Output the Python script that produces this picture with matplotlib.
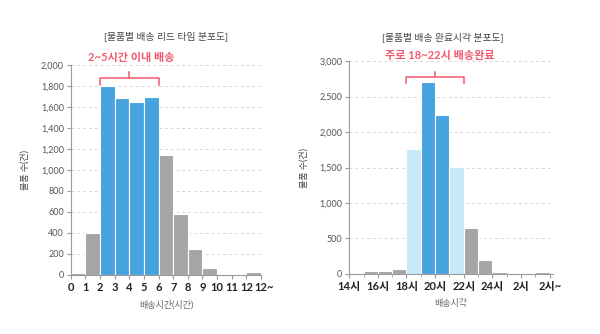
import matplotlib.pyplot as plt
import matplotlib.transforms as mtransforms
from matplotlib.ticker import FuncFormatter

plt.rcParams['font.family'] = ['Lato', 'Noto Sans CJK KR', 'DejaVu Sans']

# left chart: lead time (hours)
lead_bins = list(range(0, 13))
lead_counts = [15, 395, 1800, 1690, 1645, 1700, 1145, 580, 245, 65, 10, 3, 25]
lead_colors = ['gray', 'gray', 'blue', 'blue', 'blue', 'blue', 'gray',
               'gray', 'gray', 'gray', 'gray', 'gray', 'gray']
lead_ticklabels = ['0', '1', '2', '3', '4', '5', '6', '7', '8', '9', '10', '11', '12', '12~']

# right chart: completion hour
done_bins = list(range(14, 28))
done_counts = [0, 35, 40, 75, 1760, 2700, 2240, 1510, 640, 190, 25, 0, 0, 20]
done_colors = ['gray', 'gray', 'gray', 'gray', 'light', 'blue', 'blue', 'light',
               'gray', 'gray', 'gray', 'gray', 'gray', 'gray']
done_ticks = [14, 16, 18, 20, 22, 24, 26, 28]
done_ticklabels = ['14시', '16시', '18시', '20시', '22시', '24시', '2시', '2시~']

palette = {'gray': '#a5a5a5', 'blue': '#47a3e0', 'light': '#c8e8f8'}
red = '#f25a6b'
axis_gray = '#9a9a9a'

fig = plt.figure(figsize=(6, 3.34), dpi=100)
ax1 = fig.add_axes([0.118, 0.177, 0.317, 0.628])
ax2 = fig.add_axes([0.582, 0.180, 0.339, 0.637])


def style(ax):
    ax.spines['top'].set_visible(False)
    ax.spines['right'].set_visible(False)
    for s in ('left', 'bottom'):
        ax.spines[s].set_color(axis_gray)
        ax.spines[s].set_linewidth(0.8)
    ax.yaxis.grid(True, linestyle=(0, (3, 3)), color='#d8d8d8', linewidth=0.7)
    ax.set_axisbelow(True)
    ax.tick_params(axis='y', length=3, color=axis_gray, labelsize=6.5, labelcolor='#555555', pad=2)
    ax.tick_params(axis='x', length=3, color=axis_gray, labelsize=8, labelcolor='#222222', pad=2)
    ax.yaxis.set_major_formatter(FuncFormatter(lambda v, p: f'{int(v):,}'))
    for lab in ax.get_xticklabels():
        lab.set_fontweight('bold')


def bracket(ax, x0, x1, y_line, drop, notch):
    xm = (x0 + x1) / 2
    ax.plot([x0, x0, x1, x1], [y_line - drop, y_line, y_line, y_line - drop],
            color=red, lw=1.1, clip_on=False)
    ax.plot([xm, xm], [y_line, y_line + notch], color=red, lw=1.1, clip_on=False)


# left
ax1.bar(lead_bins, lead_counts, width=1, align='edge',
        color=[palette[c] for c in lead_colors], edgecolor='white', linewidth=0.8)
ax1.set_xlim(0, 13)
ax1.set_ylim(0, 2000)
ax1.set_yticks(range(0, 2001, 200))
ax1.set_xticks(range(0, 14))
ax1.set_xticklabels(lead_ticklabels)
style(ax1)
# nudge "12~" a little right so it doesn't run into "12"
last = ax1.get_xticklabels()[-1]
last.set_transform(last.get_transform() + mtransforms.ScaledTranslation(3 / 100, 0, fig.dpi_scale_trans))
ax1.set_xlabel('배송시간(시간)', fontsize=6.5, color='#666666', labelpad=5)
ax1.set_ylabel('물품 수(건)', fontsize=6.5, color='#444444', labelpad=8)
ax1.text(6.5, 2280, '[물품별 배송 리드 타임 분포도]', ha='center', va='center',
         fontsize=7, color='#444444')
ax1.text(4.1, 2075, '2~5시간 이내 배송', ha='center', va='center',
         fontsize=8, color=red, fontweight='bold')
bracket(ax1, 2, 6, 1880, 70, 50)

# right
ax2.bar(done_bins, done_counts, width=1, align='edge',
        color=[palette[c] for c in done_colors], edgecolor='white', linewidth=0.8)
ax2.set_xlim(14, 28.2)
ax2.set_ylim(0, 3000)
ax2.set_yticks(range(0, 3001, 500))
ax2.set_xticks(done_ticks)
ax2.set_xticks(range(14, 29), minor=True)
ax2.tick_params(axis='x', which='minor', length=2, color=axis_gray)
ax2.set_xticklabels(done_ticklabels)
style(ax2)
ax2.set_xlabel('배송시각', fontsize=6.5, color='#666666', labelpad=5)
ax2.set_ylabel('물품 수(건)', fontsize=6.5, color='#444444', labelpad=8)
ax2.text(20.5, 3340, '[물품별 배송 완료시각 분포도]', ha='center', va='center',
         fontsize=7, color='#444444')
ax2.text(20.3, 3080, '주로 18~22시 배송완료', ha='center', va='center',
         fontsize=8, color=red, fontweight='bold')
bracket(ax2, 18, 22, 2780, 90, 70)

fig.savefig('out.png', dpi=100)
